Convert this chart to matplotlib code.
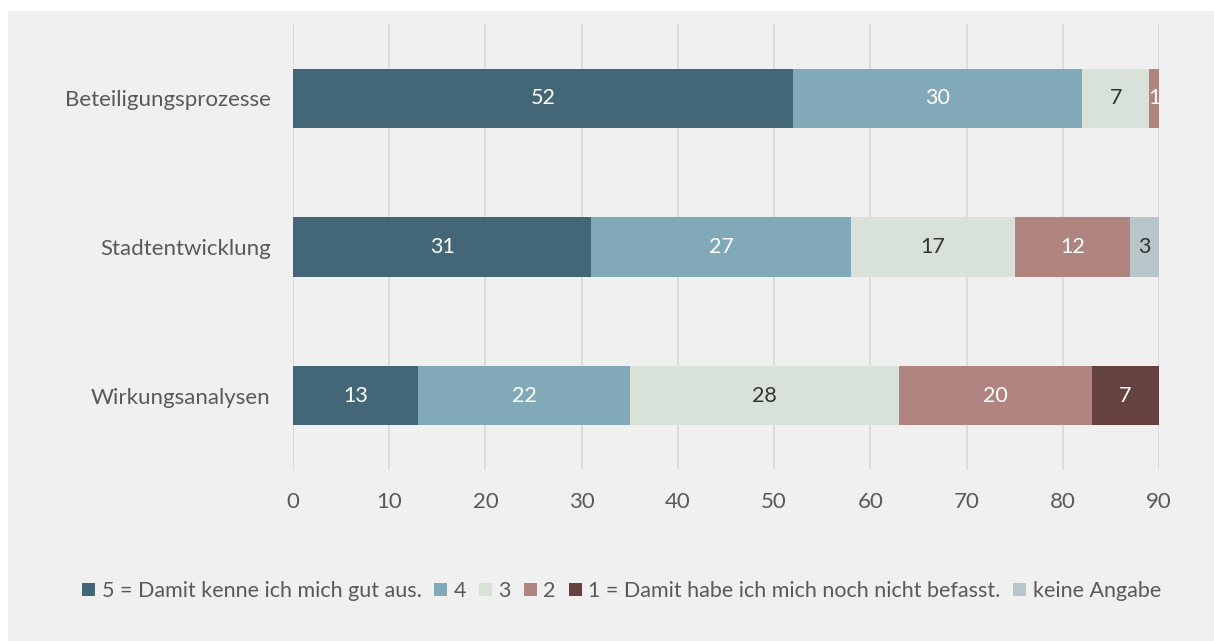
import matplotlib.pyplot as plt
import matplotlib.patches as mpatches
import numpy as np

plt.rcParams['font.family'] = ['Lato', 'DejaVu Sans']

categories = ['Beteiligungsprozesse', 'Stadtentwicklung', 'Wirkungsanalysen']
series_names = ['5 = Damit kenne ich mich gut aus.', '4', '3', '2',
                '1 = Damit habe ich mich noch nicht befasst.', 'keine Angabe']
s5 = [52, 31, 13]
s4 = [30, 27, 22]
s3 = [7, 17, 28]
s2 = [1, 12, 20]
s1 = [0, 0, 7]
s_na = [0, 3, 0]

colors = ['#436776', '#82a9b7', '#d8e2d8', '#b0847f', '#654240', '#b9c6c9']
label_colors = ['white', 'white', '#333333', 'white', 'white', '#333333']

fig = plt.figure(figsize=(12.14, 6.41), dpi=100)
fig.patch.set_facecolor('white')
fig.patches.append(mpatches.Rectangle((8 / 1214, 0), 1, 1 - 11 / 641,
                                      transform=fig.transFigure,
                                      facecolor='#eff0ef', edgecolor='none', zorder=-10))

ax = fig.add_axes([293 / 1214, 1 - 470 / 641, (1159 - 293) / 1214, 446 / 641])
ax.set_facecolor('none')

y = np.arange(len(categories))
left = np.zeros(len(categories))
for name, vals, c, lc in zip(series_names, [s5, s4, s3, s2, s1, s_na], colors, label_colors):
    vals = np.array(vals, dtype=float)
    ax.barh(y, vals, left=left, height=0.4, color=c, label=name, zorder=3)
    for yi, v, l in zip(y, vals, left):
        if v > 0:
            ax.text(l + v / 2, yi, str(int(v)), ha='center', va='center',
                    color=lc, fontsize=15.5, zorder=4)
    left += vals

ax.set_xlim(0, 90)
ax.set_ylim(2.5, -0.5)
ax.set_xticks(range(0, 91, 10))
ax.set_yticks(y)
ax.set_yticklabels(categories)
ax.grid(axis='x', color='#d9d9d9', linewidth=1.2, zorder=0)
for s in ax.spines.values():
    s.set_visible(False)
ax.tick_params(axis='x', length=0, pad=16, labelsize=16, labelcolor='#595959')
ax.tick_params(axis='y', length=0, pad=16, labelsize=16, labelcolor='#595959')

fig.legend(loc='center', bbox_to_anchor=(0.512, 1 - 591 / 641), ncol=6, frameon=False,
           fontsize=15.5, handlelength=0.6, handleheight=0.6, handletextpad=0.3,
           columnspacing=0.6, labelcolor='#595959')

fig.savefig('out.png', dpi=100, facecolor=fig.get_facecolor())
